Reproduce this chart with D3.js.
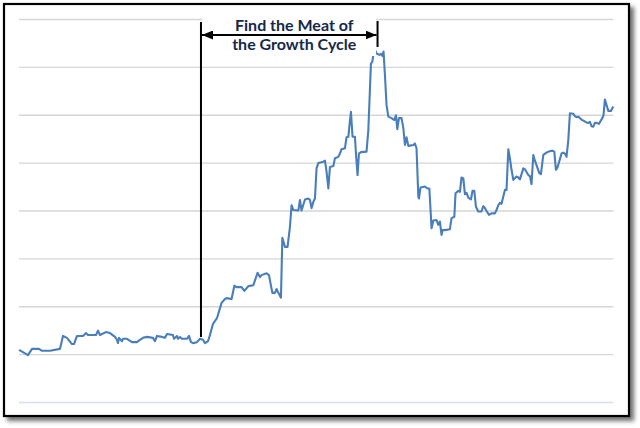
<!DOCTYPE html>
<html>
<head>
<meta charset="utf-8">
<script src="https://cdn.jsdelivr.net/npm/d3@7"></script>
<style>
  html, body { margin: 0; padding: 0; background: #ffffff; }
  svg { display: block; }
</style>
</head>
<body>
<svg id="chart" width="640" height="428"></svg>
<script>
// ---- data (time index in months, value) ----
const months = [0,4.5,6.5,10,11.5,15.5,20.5,22,24,26.5,27.5,29,32,33.5,34.5,38.5,39.5,40.5,43.5,45.5,48,49,49.5,50,51.5,52,54,56.5,59,60.5,62,64,67,68,69,71.5,73,74,77,77.5,79,79.5,80.5,81.5,84,85,86,87,89,90.5,92,93,94.5,95.5,97,99,101.3,103,103.8,106.3,107.7,108.8,111.3,112.7,114.7,117.2,119.3,120.5,121.3,123.8,125,126.7,128,128.8,129.7,131,131.7,133,134.3,135.5,136.3,137.2,139.7,140.5,141.3,143,144.7,145.5,146.3,147.2,148,148.8,149.7,152.2,153,153.8,154.7,155.5,157.2,158,159.7,160.5,161.3,163,163.8,164.7,165.2,166,166.8,168,168.5,169.3,170,171,173.8,174.7,176,176.7,177.7,178.8,180.2,181,181.7,182.3,183,183.8,184.7,186.3,187.7,188.5,189.2,190,191.3,192.2,193,193.8,194.7,197.2,198,198.8,199.7,200,200.8,203,204.3,205.2,206,206.3,207.2,208.8,209.7,210.5,211.3,211.8,213,215.5,216.3,217.7,218.3,219.7,220.5,221.3,222.2,223,223.8,224.7,226,226.8,227.7,228.5,229.7,231.3,232.2,233,233.8,235,236.3,238,238.8,239.7,240.5,241.3,243,243.8,244.7,245.5,246.3,247.2,248.8,249.7,250.5,252.2,253,254.7,255.5,256.3,257.2,258,260.2,261,262.2,263.8,265.5,266.7,267.7,268.5,269.3,271.3,272.2,273,273.8,274.7,275.5,277.2,278,278.8,279.7,281.3,283.8,284.7,285.5,286.3,287.2,288,288.8,290,291,291.7,292.3,293,294.7,296,297.2];
const values = [109,98,111,111,107,107,111,138,134,121,121,138,138,144,140,140,149,140,146,144,136,130,123,134,127,132,132,125,125,130,134,136,134,127,138,136,134,142,140,132,138,132,136,132,132,138,125,123,125,132,130,123,127,140,163,175,207,215,217,215,243,240,240,232,242,244,270,261,265,269,265,228,228,236,228,218,343,324,324,366,411,401,400,422,400,423,425,422,405,418,425,488,499,502,504,481,446,491,493,509,512,519,528,530,553,554,575,606,554,554,519,474,519,522,523,568,707,711,739,728,725,727,723,732,683,620,596,593,589,599,570,593,593,572,537,553,535,537,540,530,429,425,448,450,446,446,387,363,379,380,370,377,349,359,359,361,384,387,436,441,439,469,467,434,437,427,423,441,441,408,398,398,409,405,399,391,394,394,401,411,416,414,443,443,528,509,485,464,471,469,465,488,486,474,472,455,516,504,478,476,516,521,524,525,523,485,490,519,521,519,512,547,603,602,597,595,596,590,584,583,585,576,575,583,583,581,588,593,599,632,608,608,617,616];
const gridValues = [0,100,200,300,400,500,600,700,800];
const annotationLines = ["Find the Meat of", "the Growth Cycle"];
const cycleStart = 91;   // month where the growth cycle starts
const cycleEnd = 179.3;  // month of the peak

const svg = d3.select("#chart");

// drop shadow filter
const defs = svg.append("defs");
const f = defs.append("filter").attr("id", "shadow").attr("x", "-5%").attr("y", "-5%").attr("width", "115%").attr("height", "115%");
f.append("feDropShadow").attr("dx", 4).attr("dy", 4).attr("stdDeviation", 2)
  .attr("flood-color", "#000").attr("flood-opacity", 0.55);

defs.append("marker").attr("id", "arrow").attr("viewBox", "0 0 11 9")
  .attr("refX", 11).attr("refY", 4.5).attr("markerWidth", 11).attr("markerHeight", 9)
  .attr("markerUnits", "userSpaceOnUse").attr("orient", "auto-start-reverse")
  .append("path").attr("d", "M0,0 L11,4.5 L0,9 Z").attr("fill", "#000");

// frame
svg.append("rect").attr("x", 4).attr("y", 4).attr("width", 625).attr("height", 412)
  .attr("fill", "#fff").attr("stroke", "#000").attr("stroke-width", 2.2)
  .attr("filter", "url(#shadow)");

const x = d3.scaleLinear().domain([0, 297.2]).range([19, 613.3]);
const y = d3.scaleLinear().domain([0, 800]).range([402, 19]);

// gridlines via axis
const gAxis = svg.append("g").attr("transform", "translate(19,0)")
  .call(d3.axisLeft(y).tickValues(gridValues).tickSize(-(613.5 - 19)).tickFormat(""));
gAxis.select(".domain").remove();
gAxis.selectAll(".tick line")
  .attr("stroke", d => d === 0 ? "#d5def0" : "#d6d6d6")
  .attr("stroke-width", 1.4);

// series line
const line = d3.line().x((d, i) => x(months[i])).y(d => y(d));
svg.append("path").datum(values)
  .attr("d", line)
  .attr("fill", "none")
  .attr("stroke", "#4a7ebb")
  .attr("stroke-width", 2.1)
  .attr("stroke-linejoin", "round");

// annotation box (white background hides gridline)
const xs = x(cycleStart), xe = x(cycleEnd);
svg.append("rect").attr("x", xs + 1.5).attr("y", 9).attr("width", xe - xs - 3).attr("height", 47).attr("fill", "#fff");

svg.append("line").attr("x1", xs).attr("x2", xs).attr("y1", 22).attr("y2", 337)
  .attr("stroke", "#000").attr("stroke-width", 2);
svg.append("line").attr("x1", xe).attr("x2", xe).attr("y1", 21).attr("y2", 47)
  .attr("stroke", "#000").attr("stroke-width", 2);
svg.append("line").attr("x1", xs + 1).attr("x2", xe - 1).attr("y1", 35).attr("y2", 35)
  .attr("stroke", "#000").attr("stroke-width", 2)
  .attr("marker-start", "url(#arrow)").attr("marker-end", "url(#arrow)");

svg.append("g").selectAll("text").data(annotationLines).join("text")
  .attr("x", (xs + xe) / 2 + 5)
  .attr("y", (d, i) => 31 + i * 19)
  .attr("text-anchor", "middle")
  .attr("font-family", "Lato, 'Open Sans', sans-serif")
  .attr("font-weight", "bold")
  .attr("font-size", 16)
  .attr("fill", "#15284a")
  .text(d => d);
</script>
</body>
</html>
